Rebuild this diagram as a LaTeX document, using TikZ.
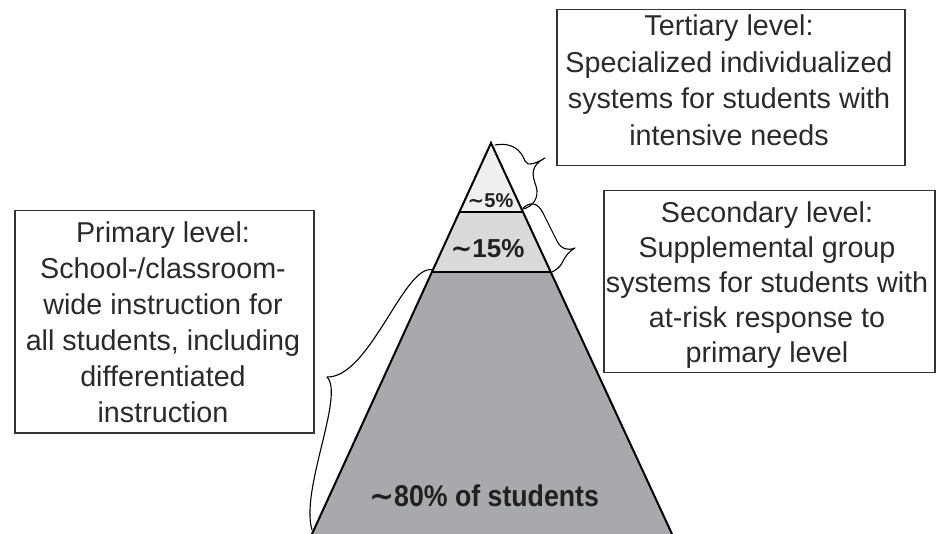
\documentclass[tikz,border=0pt]{standalone}
\usepackage{fontspec}
\setmainfont{Liberation Sans}
\newfontfamily\condsans[FakeStretch=0.89]{Liberation Sans}
\newfontfamily\tildefont{DejaVu Sans}
\newcommand{\bigtilde}{{\tildefont\bfseries\char"223C}}
\definecolor{tierA}{HTML}{EFEFF0}
\definecolor{tierB}{HTML}{D9DADB}
\definecolor{tierC}{HTML}{A7A9AC}
\definecolor{labelcol}{HTML}{231F20}
\definecolor{textgray}{HTML}{2A2A2A}
\definecolor{boxline}{HTML}{333333}
\begin{document}
\begin{tikzpicture}[x=1pt,y=-1pt,
  labelbox/.style={draw=boxline, line width=1.5pt, inner sep=0pt, anchor=north west},
  boxtext/.style={font=\fontsize{28.7}{36}\selectfont, align=center, inner sep=0pt, text=textgray, anchor=north},
  pct/.style={font=\bfseries, inner sep=0pt, text=labelcol, anchor=center},
  edge/.style={draw=black, line width=2pt},
  curlybrace/.style={draw=black, line width=1.1pt, line join=round, line cap=round}]
\useasboundingbox (0,0) rectangle (937,534);

% pyramid geometry
\coordinate (apex) at (491,143);
\coordinate (bl) at (312,534);
\coordinate (br) at (672,534);
\coordinate (l1) at (459.4,212);
\coordinate (r1) at (523,212);
\coordinate (l2) at (432.9,272);
\coordinate (r2) at (550.7,272);

\fill[tierA] (apex) -- (r1) -- (l1) -- cycle;
\fill[tierB] (l1) -- (r1) -- (r2) -- (l2) -- cycle;
\fill[tierC] (l2) -- (r2) -- (br) -- (bl) -- cycle;
\draw[edge] (bl) -- (apex) -- (br);
\draw[edge] (l1) -- (r1);
\draw[edge] (l2) -- (r2);

\node[pct, font=\bfseries\fontsize{20}{20}\selectfont] (p5) at (490.5,201) {\bigtilde 5\%};
\node[pct, font=\bfseries\fontsize{26}{26}\selectfont] (p15) at (487.5,249) {\bigtilde 15\%};
\node[pct, font=\condsans\bfseries\fontsize{30}{30}\selectfont] (p80) at (484,496) {\bigtilde 80\% of students};

% boxes
\node[labelbox, minimum width=348pt, minimum height=156pt] (tert) at (556,9) {};
\node[boxtext, font=\fontsize{28.7}{36.5}\selectfont] (terttext) at (729,15) {Tertiary level:\\Specialized individualized\\systems for students with\\intensive needs};

\node[labelbox, minimum width=331pt, minimum height=182pt] (sec) at (603,190) {};
\node[boxtext, font=\fontsize{28.7}{35}\selectfont] (sectext) at (767,202) {Secondary level:\\Supplemental group\\systems for students with\\at-risk response to\\primary level};

\node[labelbox, minimum width=299pt, minimum height=222pt] (prim) at (14,210) {};
\node[boxtext, font=\fontsize{28.7}{36}\selectfont] (primtext) at (163,222) {Primary level:\\School-/classroom-\\wide instruction for\\all students, including\\differentiated\\instruction};

% braces
\coordinate (tb1) at (495,145);
\coordinate (tbt) at (545,158);
\coordinate (tb2) at (523,209);
\draw[curlybrace] (tb1) .. controls (512,142) and (521,150) .. (525,161)
  .. controls (527,167) and (537,163) .. (tbt)
  .. controls (530,166) and (532,175) .. (536,186)
  .. controls (540,198) and (532,207) .. (tb2);

\coordinate (sb1) at (523,208);
\coordinate (sbt) at (575,248);
\coordinate (sb2) at (552,272);
\draw[curlybrace] (sb1) .. controls (531,201) and (538,203) .. (543,213)
  -- (557,241)
  .. controls (561,249) and (567,251) .. (sbt)
  .. controls (568,252) and (565,257) .. (562,263)
  .. controls (560,267) and (556,270) .. (sb2);

\coordinate (pb1) at (433,270);
\coordinate (pbt) at (327,377);
\coordinate (pb2) at (312,530);
\draw[curlybrace] (pb1) .. controls (405,262) and (370,378) .. (pbt)
  .. controls (345,395) and (300,490) .. (pb2);
\end{tikzpicture}
\end{document}
